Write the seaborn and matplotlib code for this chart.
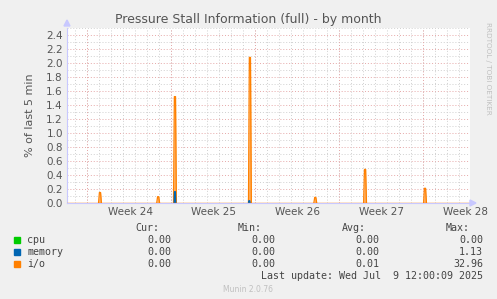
import numpy as np
import pandas as pd
import matplotlib
matplotlib.use("Agg")
import matplotlib.pyplot as plt
import seaborn as sns

# ---- data (days since left edge of the graph) ----
io_days = [2.75, 7.6, 9.0, 15.25, 20.7, 24.85, 29.85]
io_peaks = [0.15, 0.09, 1.52, 2.08, 0.08, 0.48, 0.21]
mem_days = [9.0, 15.2]
mem_peaks = [0.16, 0.03]
week_labels = ["Week 24", "Week 25", "Week 26", "Week 27", "Week 28"]
week_label_days = [5.33, 12.25, 19.25, 26.25, 33.25]
week_start_days = [1.67, 8.67, 15.67, 22.67, 29.67]
y_ticks = [0.0, 0.2, 0.4, 0.6, 0.8, 1.0, 1.2, 1.4, 1.6, 1.8, 2.0, 2.2, 2.4]
series_names = ["cpu", "memory", "i/o"]
series_colors = ["#00cc00", "#0066b3", "#ff8000"]
cur_vals = ["0.00", "0.00", "0.00"]
min_vals = ["0.00", "0.00", "0.00"]
avg_vals = ["0.00", "0.00", "0.01"]
max_vals = ["0.00", "1.13", "32.96"]
x_span = 33.6

sns.set_style("white")
plt.rcParams['font.family'] = ['DejaVu Sans']

W, H = 497, 299
fig = plt.figure(figsize=(W / 100, H / 100), dpi=100, facecolor="#f0f0f0")
ax = fig.add_axes([67 / W, 1 - 203 / H, (470 - 67) / W, (203 - 28) / H])
ax.set_facecolor("white")

def spike_frame(days, peaks, half, baseline=True):
    rows = []
    for k, (d, p) in enumerate(zip(days, peaks)):
        for x, y in [(d - half, 0.0), (d - half * 0.4, p), (d + half * 0.4, p), (d + half, 0.0)]:
            rows.append((k, x, y))
    df = pd.DataFrame(rows, columns=["spike", "day", "value"])
    return df

io_df = spike_frame(io_days, io_peaks, 0.12)
mem_df = spike_frame(mem_days, mem_peaks, 0.05)

grey = "#d0d0d0"
red = "#e6a8a8"
dots = (0, (1, 2))
# grid
for v in np.arange(0.1, 2.5, 0.2):
    ax.axhline(v, color=grey, lw=0.7, ls=dots, zorder=0)
for v in y_ticks[1:]:
    ax.axhline(v, color=red, lw=0.7, ls=dots, zorder=0)
ax.axhline(2.5, color=grey, lw=0.7, ls=dots, zorder=0)
for d in np.arange(0.67, x_span, 1.0):
    ax.axvline(d, color=grey, lw=0.7, ls=dots, zorder=0)
for d in week_start_days:
    ax.axvline(d, color=red, lw=0.7, ls=dots, zorder=0)

for k, g in io_df.groupby("spike"):
    ax.fill_between(g["day"], g["value"], color="#ffb060", lw=0, zorder=2)
sns.lineplot(data=io_df, x="day", y="value", units="spike", estimator=None, ax=ax,
             color=series_colors[2], lw=0.9, zorder=3)
sns.lineplot(data=mem_df, x="day", y="value", units="spike", estimator=None, ax=ax,
             color=series_colors[1], lw=1.2, zorder=4)
ax.axhline(0.0, color=series_colors[2], lw=1.0, zorder=5)

ax.set_xlim(0, x_span)
ax.set_ylim(0, 2.5)
ax.set_yticks(y_ticks)
ax.set_yticklabels([f"{v:.1f}" for v in y_ticks], fontsize=7.5, color="#555555")
ax.set_xticks(week_label_days)
ax.set_xticklabels(week_labels, fontsize=7.5, color="#555555")
ax.tick_params(axis="both", length=0, pad=3)
ax.set_xlabel("")
ax.set_ylabel("% of last 5 min", fontsize=8, color="#555555", labelpad=8)
for s in ["top", "right"]:
    ax.spines[s].set_visible(False)
ax.spines["left"].set_color("#c8c8ff")
ax.spines["bottom"].set_color("#c8c8ff")
ax.spines["left"].set_linewidth(0.8)
ax.spines["bottom"].set_linewidth(0.8)

# axis arrows
fig.patches.append(plt.Polygon([[64 / W, 1 - 26 / H], [70 / W, 1 - 26 / H], [67 / W, 1 - 20 / H]],
                               closed=True, transform=fig.transFigure, color="#c8c8ff"))
fig.patches.append(plt.Polygon([[470 / W, 1 - 200 / H], [470 / W, 1 - 206 / H], [476 / W, 1 - 203 / H]],
                               closed=True, transform=fig.transFigure, color="#c8c8ff"))

fig.text(248 / W, 1 - 19 / H, "Pressure Stall Information (full) - by month",
         ha="center", va="center", fontsize=9, color="#555555")
fig.text(488 / W, 1 - 22 / H, "RRDTOOL / TOBI OETIKER", rotation=270, ha="center", va="top",
         fontsize=5.2, color="#c0c0c0")

mono = "DejaVu Sans Mono"
fs = 7.2
tc = "#444444"
col_hdr_x = [159, 262, 366, 470]
col_val_x = [171, 275, 379, 483]
for x, h in zip(col_hdr_x, ["Cur:", "Min:", "Avg:", "Max:"]):
    fig.text(x / W, 1 - 228 / H, h, ha="right", va="center", family=mono, fontsize=fs, color=tc)
rows_y = [240, 252, 264]
for i, name in enumerate(series_names):
    y = rows_y[i]
    fig.patches.append(plt.Rectangle((14 / W, 1 - (y + 3) / H), 6 / W, 6 / H,
                                     transform=fig.transFigure, color=series_colors[i]))
    fig.text(27 / W, 1 - y / H, name, ha="left", va="center", family=mono, fontsize=fs, color=tc)
    for x, vals in zip(col_val_x, [cur_vals, min_vals, avg_vals, max_vals]):
        fig.text(x / W, 1 - y / H, vals[i], ha="right", va="center", family=mono, fontsize=fs, color=tc)
fig.text(483 / W, 1 - 276 / H, "Last update: Wed Jul  9 12:00:09 2025", ha="right", va="center",
         family=mono, fontsize=fs, color=tc)
fig.text(248 / W, 1 - 289 / H, "Munin 2.0.76", ha="center", va="center", fontsize=5.5, color="#c0c0c0")

fig.savefig("out.png", dpi=100, facecolor=fig.get_facecolor())
